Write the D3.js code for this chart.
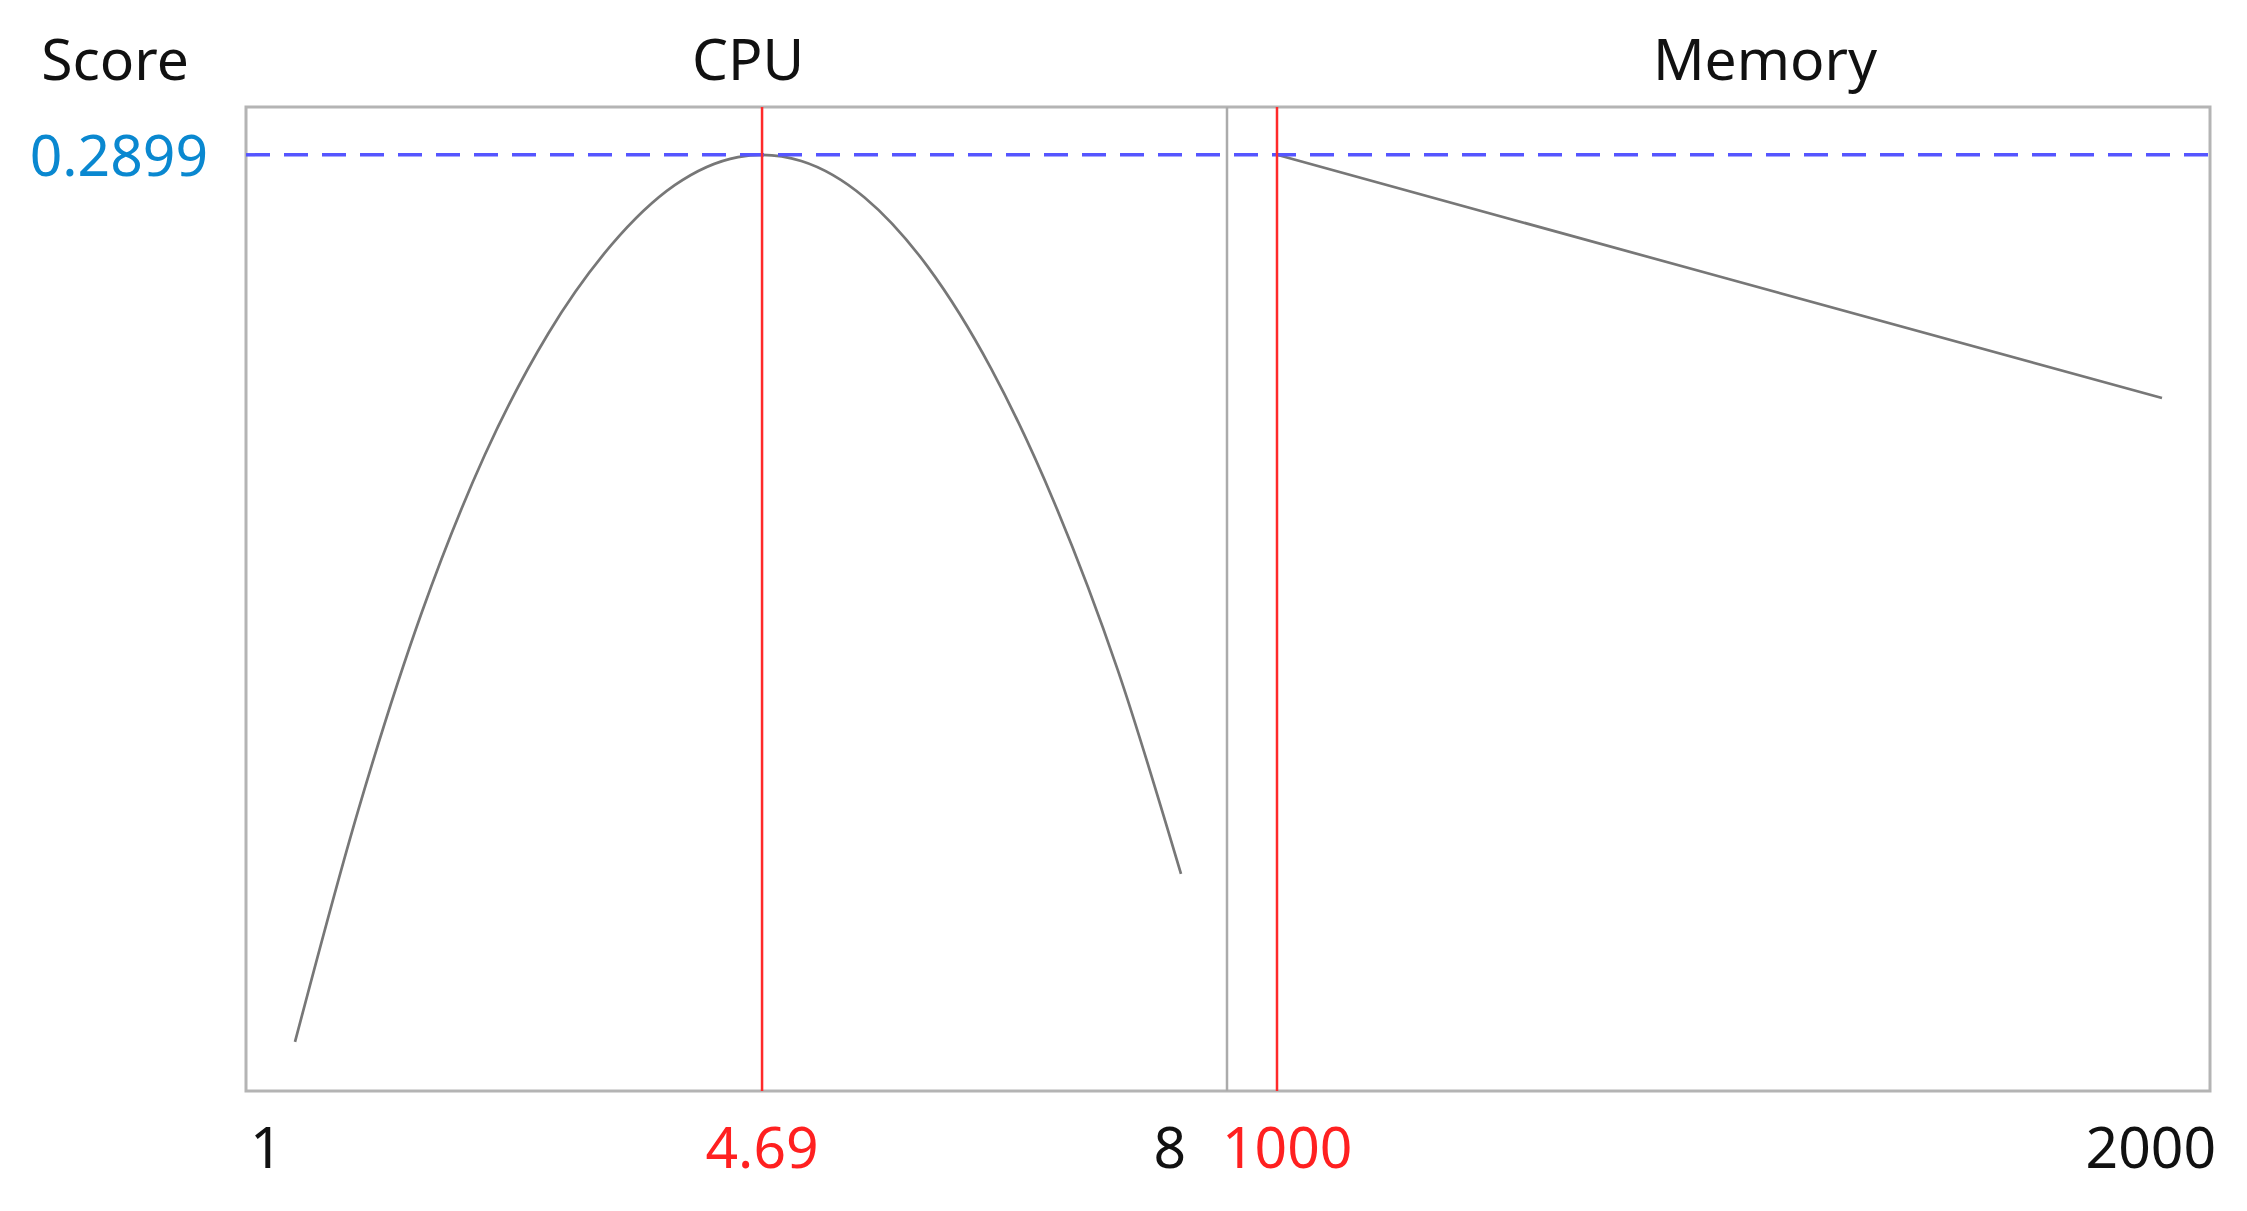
<!DOCTYPE html>
<html>
<head>
<meta charset="utf-8">
<script src="https://cdn.jsdelivr.net/npm/d3@7"></script>
<style>
    body { margin: 0; background: #ffffff; }
    text { font-family: "Noto Sans", "Open Sans", sans-serif; }
</style>
</head>
<body>
<div id="chart"></div>
<script>
// values
const cpuValues = [1, 1.5, 2, 2.5, 3, 3.5, 4, 4.5, 4.69, 5, 5.5, 6, 6.5, 7, 7.5, 8];
const cpuScores = [0.0152, 0.0870, 0.1480, 0.1970, 0.2345, 0.2620, 0.2805, 0.2892, 0.2899, 0.2880, 0.2767, 0.2552, 0.2237, 0.1821, 0.1304, 0.0672];
const memValues = [1000, 1500, 2000];
const memScores = [0.2899, 0.2522, 0.2146];

const factors = ["CPU", "Memory"];
const cpuRange = [1, 8];
const memRange = [1000, 2000];
const current = {cpu: "4.69", mem: "1000"};
const optScore = 0.2899;
const yLabel = "Score";

const width_svg = 2247;
const height_svg = 1211;
const frame = {left: 246, right: 2210, top: 107, bottom: 1091, split: 1227};

var svg = d3.select("#chart")
    .append("svg")
    .attr("width", width_svg)
    .attr("height", height_svg);

const xCpu = d3.scaleLinear().domain(cpuRange).range([295, 1181]);
const xMem = d3.scaleLinear().domain(memRange).range([1277, 2162]);
const y = d3.scaleLinear().domain([0, 0.3047]).range([frame.bottom, frame.top]);

// frame + divider
svg.append("rect")
    .attr("x", frame.left)
    .attr("y", frame.top)
    .attr("width", frame.right - frame.left)
    .attr("height", frame.bottom - frame.top)
    .attr("fill", "none")
    .attr("stroke", "#b4b4b4")
    .attr("stroke-width", 3);

svg.append("line")
    .attr("x1", frame.split).attr("x2", frame.split)
    .attr("y1", frame.top).attr("y2", frame.bottom)
    .attr("stroke", "#ababab")
    .attr("stroke-width", 2.5);

// curves
const line = d3.line().curve(d3.curveMonotoneX);

svg.append("path")
    .attr("d", line(cpuValues.map((v, i) => [xCpu(v), y(cpuScores[i])])))
    .attr("fill", "none")
    .attr("stroke", "#777777")
    .attr("stroke-width", 2.7);

svg.append("path")
    .attr("d", line(memValues.map((v, i) => [xMem(v), y(memScores[i])])))
    .attr("fill", "none")
    .attr("stroke", "#777777")
    .attr("stroke-width", 2.7);

// optimum score line
svg.append("line")
    .attr("x1", frame.left).attr("x2", frame.right)
    .attr("y1", y(optScore)).attr("y2", y(optScore))
    .attr("stroke", "#5555ff")
    .attr("stroke-width", 3.5)
    .attr("stroke-dasharray", "24,14");

// current setting lines
[xCpu(+current.cpu), xMem(+current.mem)].forEach(function (xv) {
    svg.append("line")
        .attr("x1", xv).attr("x2", xv)
        .attr("y1", frame.top).attr("y2", frame.bottom)
        .attr("stroke", "#ff2a2a")
        .attr("stroke-width", 2.5);
});

// header texts
const fontSize = "57px";
svg.append("text")
    .attr("x", 115).attr("y", 80)
    .attr("text-anchor", "middle")
    .style("font-size", fontSize)
    .attr("fill", "#111")
    .text(yLabel);

svg.append("text")
    .attr("x", 748).attr("y", 80)
    .attr("text-anchor", "middle")
    .style("font-size", fontSize)
    .attr("fill", "#111")
    .text(factors[0]);

svg.append("text")
    .attr("x", 1765).attr("y", 80)
    .attr("text-anchor", "middle")
    .style("font-size", fontSize)
    .attr("fill", "#111")
    .text(factors[1]);

svg.append("text")
    .attr("x", 208).attr("y", y(optScore) + 21)
    .attr("text-anchor", "end")
    .style("font-size", fontSize)
    .attr("fill", "#0a88d0")
    .text(d3.format(".4f")(optScore));

// bottom labels
const bottomLabels = [
    {x: 250, anchor: "start", color: "#111", text: String(cpuRange[0])},
    {x: xCpu(+current.cpu), anchor: "middle", color: "#ff2020", text: current.cpu},
    {x: 1186, anchor: "end", color: "#111", text: String(cpuRange[1])},
    {x: 1222, anchor: "start", color: "#ff2020", text: current.mem},
    {x: 2216, anchor: "end", color: "#111", text: String(memRange[1])}
];

svg.selectAll(".xlab")
    .data(bottomLabels)
    .enter()
    .append("text")
    .attr("class", "xlab")
    .attr("x", d => d.x)
    .attr("y", 1168)
    .attr("text-anchor", d => d.anchor)
    .attr("fill", d => d.color)
    .style("font-size", fontSize)
    .text(d => d.text);
</script>
</body>
</html>
